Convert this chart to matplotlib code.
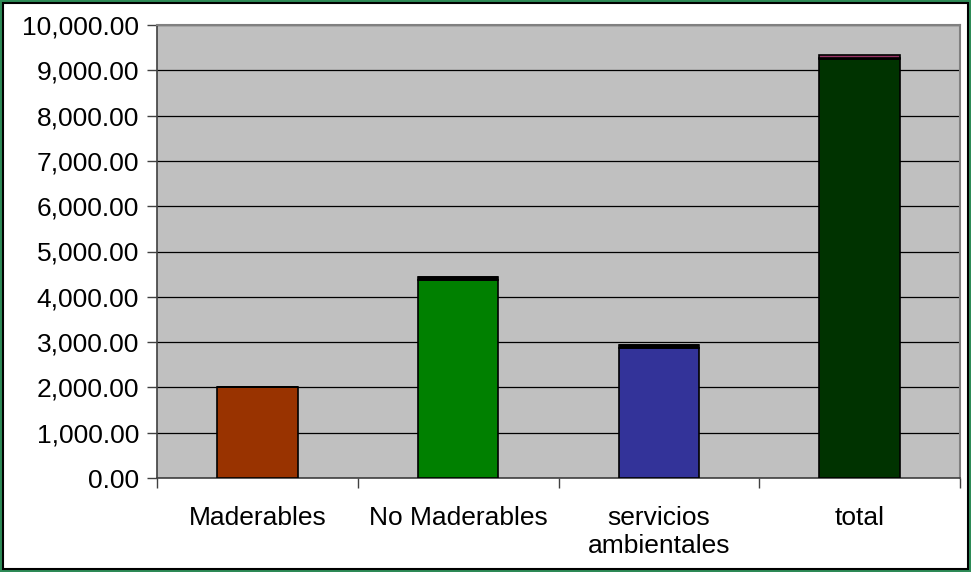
import matplotlib
matplotlib.use("Agg")
import matplotlib.pyplot as plt
from matplotlib.patches import Rectangle
from matplotlib.ticker import FuncFormatter, FixedLocator

categories = ["Maderables", "No Maderables", "servicios\nambientales", "total"]
main_values = [2000, 4370, 2880, 9250]
second_values = [0, 65, 65, 30]
third_values = [0, 0, 0, 60]
bar_colors = ["#993300", "#008000", "#333399", "#003300"]

plt.rcParams["font.family"] = ["Liberation Sans", "DejaVu Sans"]

fig = plt.figure(figsize=(9.71, 5.72), dpi=100)
ax = fig.add_axes([157 / 971, 1 - 478 / 572, (960 - 157) / 971, (478 - 25) / 572])
ax.set_facecolor("#C0C0C0")

x = list(range(len(categories)))
w = 0.4
ax.bar(x, main_values, width=w, color=bar_colors, edgecolor="black", linewidth=1.2, zorder=3)
base2 = main_values
ax.bar(x, second_values, width=w, bottom=base2, color="black", edgecolor="black", linewidth=1.2, zorder=3)
base3 = [a + b for a, b in zip(main_values, second_values)]
ax.bar(x, third_values, width=w, bottom=base3, color="#993366", edgecolor="black", linewidth=1.2, zorder=3)

ax.set_xlim(-0.5, 3.5)
ax.set_ylim(0, 10000)
ax.set_yticks(range(0, 10001, 1000))
ax.yaxis.set_major_formatter(FuncFormatter(lambda v, p: f"{v:,.2f}"))
ax.grid(axis="y", color="black", linewidth=0.9, zorder=1)

ax.set_xticks(x)
ax.set_xticklabels(categories, fontsize=19, linespacing=1.2)
ax.tick_params(axis="x", which="major", length=0, pad=20)
ax.xaxis.set_minor_locator(FixedLocator([-0.5, 0.5, 1.5, 2.5, 3.5]))
ax.tick_params(axis="x", which="minor", length=7, width=1, color="#404040")
ax.tick_params(axis="y", labelsize=19, length=7, width=1, color="#404040", pad=6)

for side in ["top", "right"]:
    ax.spines[side].set_color("#808080")
    ax.spines[side].set_linewidth(1.5)
for side in ["left", "bottom"]:
    ax.spines[side].set_color("#404040")
    ax.spines[side].set_linewidth(1.2)

# outer frame: green border with a thin black line inside
fig.patches.append(Rectangle((0, 0), 1, 1, transform=fig.transFigure,
                             fill=False, edgecolor="#2E8B57", linewidth=4))
fig.patches.append(Rectangle((3 / 971, 3 / 572), 1 - 6 / 971, 1 - 6 / 572,
                             transform=fig.transFigure, fill=False,
                             edgecolor="black", linewidth=1.5))

fig.savefig("out.png", dpi=100)
